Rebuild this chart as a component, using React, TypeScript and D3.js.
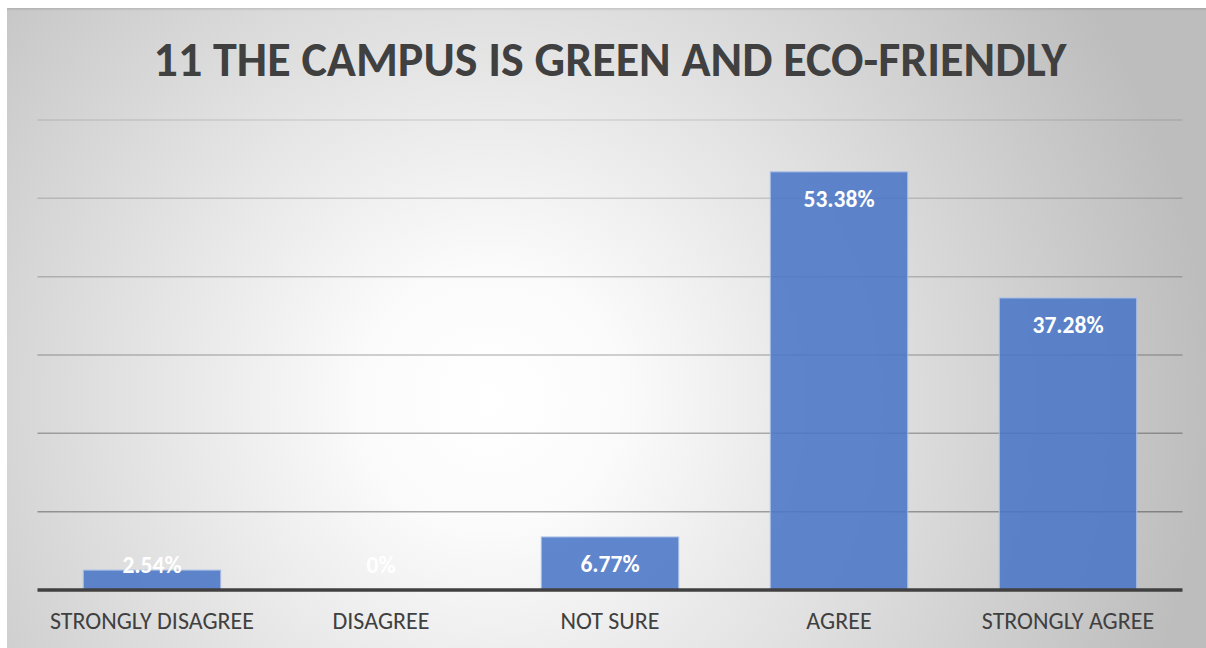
import React from "react";
import * as d3 from "d3";

const categories = ["STRONGLY DISAGREE", "DISAGREE", "NOT SURE", "AGREE", "STRONGLY AGREE"];
const values = [2.54, 0, 6.77, 53.38, 37.28];
const valueLabels = ["2.54%", "0%", "6.77%", "53.38%", "37.28%"];
const yTicks = [0, 10, 20, 30, 40, 50, 60];
const title = "11 THE CAMPUS IS GREEN AND ECO-FRIENDLY";

const W = 1206;
const H = 648;
const FONT = "Carlito, Lato, 'Open Sans', sans-serif";

export default function App() {
  const x = d3.scaleBand<string>().domain(categories).range([37.5, 1182.5]).paddingInner(0.4).paddingOuter(0.2);
  const y = d3.scaleLinear().domain([0, 60]).range([590, 120]);
  const gridOpacity = d3.scaleLinear().domain([60, 10]).range([0.1, 0.33]);

  return (
    <div style={{ position: "absolute", left: 0, top: 0, width: W, height: H, overflow: "hidden", background: "#fff" }}>
      <svg width={W} height={H} style={{ display: "block" }}>
        <defs>
          <radialGradient id="bg" gradientUnits="userSpaceOnUse" cx={490} cy={400} r={720}>
            <stop offset="0%" stopColor="#ffffff" />
            <stop offset="18%" stopColor="#fbfbfb" />
            <stop offset="100%" stopColor="#bdbdbd" />
          </radialGradient>
          <linearGradient id="topshade" x1="0" y1="0" x2="0" y2="1">
            <stop offset="0%" stopColor="#000" stopOpacity={0.12} />
            <stop offset="100%" stopColor="#000" stopOpacity={0} />
          </linearGradient>
        </defs>
        <rect x={7} y={8} width={W - 7} height={H - 8} fill="url(#bg)" />
        <rect x={7} y={8} width={W - 7} height={3} fill="url(#topshade)" />

        <text
          x={610}
          y={76}
          textAnchor="middle"
          fontFamily={FONT}
          fontWeight={700}
          fontSize={48}
          fill="#404040"
        >
          {title}
        </text>

        {yTicks.filter((t) => t > 0).map((t) => (
          <line
            key={t}
            x1={37.5}
            x2={1182.5}
            y1={y(t)}
            y2={y(t)}
            stroke="#000"
            strokeOpacity={gridOpacity(t)}
            strokeWidth={1.5}
          />
        ))}

        {categories.map((c, i) => (
          <rect
            key={c}
            x={x(c)!}
            y={y(values[i])}
            width={x.bandwidth()}
            height={y(0) - y(values[i])}
            fill="#4a76c6"
            fillOpacity={0.88}
            stroke="#a9bfe6"
            strokeWidth={1}
            visibility={values[i] > 0 ? "visible" : "hidden"}
          />
        ))}

        <line x1={37.5} x2={1182.5} y1={y(0)} y2={y(0)} stroke="#404040" strokeWidth={3.5} />

        {categories.map((c, i) => (
          <text
            key={c + "v"}
            x={x(c)! + x.bandwidth() / 2}
            y={Math.min(y(values[i]) + 35, 573)}
            textAnchor="middle"
            fontFamily={FONT}
            fontWeight={700}
            fontSize={23.5}
            fill="#ffffff"
          >
            {valueLabels[i]}
          </text>
        ))}

        {categories.map((c) => (
          <text
            key={c + "l"}
            x={x(c)! + x.bandwidth() / 2}
            y={629}
            textAnchor="middle"
            fontFamily={FONT}
            fontSize={24}
            fill="#404040"
          >
            {c}
          </text>
        ))}
      </svg>
    </div>
  );
}
